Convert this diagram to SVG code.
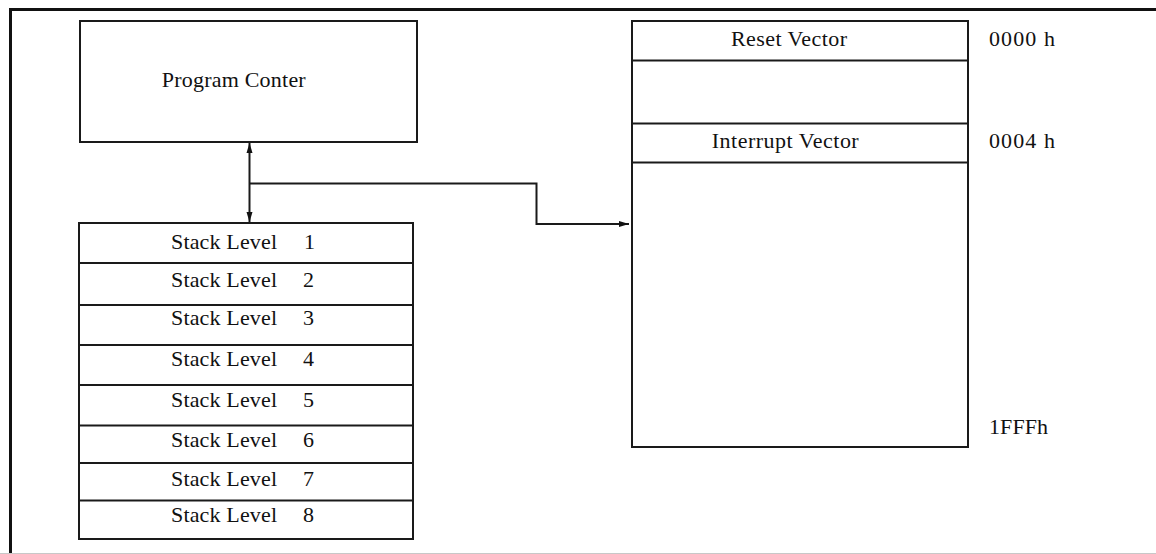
<svg xmlns="http://www.w3.org/2000/svg" width="1156" height="554" viewBox="0 0 1156 554">
<style>
.box{fill:#ffffff;stroke:#1a1a1a;stroke-width:2}
.sep{stroke:#1a1a1a;stroke-width:2;fill:none}
.lbl{font-family:"Liberation Serif","Times New Roman",serif;font-size:22px;fill:#111111}
.conn{stroke:#1a1a1a;stroke-width:2;fill:none}
</style>
<defs>
<marker id="ah" viewBox="0 0 10 7" refX="10" refY="3.5" markerWidth="10" markerHeight="7" markerUnits="userSpaceOnUse" orient="auto-start-reverse">
<path d="M0,0.5 L10,3.5 L0,6.5 z" fill="#111111"/>
</marker>
</defs>
<rect width="1156" height="554" fill="#ffffff"/>
<g id="frame">
<line x1="9" y1="9.5" x2="1156" y2="9.5" stroke="#111111" stroke-width="3"/>
<line x1="10.5" y1="8" x2="10.5" y2="553" stroke="#111111" stroke-width="3"/>
<line x1="0" y1="553.5" x2="1156" y2="553.5" stroke="#c8c8c8" stroke-width="1"/>
</g>
<g id="program-counter">
<rect class="box" x="80" y="21" width="337" height="121"/>
<text class="lbl" x="161.7" y="87.3" textLength="144" font-size="23">Program Conter</text>
</g>
<g id="stack">
<rect class="box" x="79" y="223" width="334" height="316"/>
<line class="sep" x1="79" y1="263" x2="413" y2="263"/>
<line class="sep" x1="79" y1="305" x2="413" y2="305"/>
<line class="sep" x1="79" y1="345" x2="413" y2="345"/>
<line class="sep" x1="79" y1="385" x2="413" y2="385"/>
<line class="sep" x1="79" y1="425.5" x2="413" y2="425.5"/>
<line class="sep" x1="79" y1="463" x2="413" y2="463"/>
<line class="sep" x1="79" y1="500.5" x2="413" y2="500.5"/>
<text class="lbl" y="249.3"><tspan x="171" textLength="106">Stack Level</tspan> <tspan x="304">1</tspan></text>
<text class="lbl" y="286.7"><tspan x="171" textLength="106">Stack Level</tspan> <tspan x="303">2</tspan></text>
<text class="lbl" y="325"><tspan x="171" textLength="106">Stack Level</tspan> <tspan x="303">3</tspan></text>
<text class="lbl" y="366"><tspan x="171" textLength="106">Stack Level</tspan> <tspan x="303">4</tspan></text>
<text class="lbl" y="406.7"><tspan x="171" textLength="106">Stack Level</tspan> <tspan x="303">5</tspan></text>
<text class="lbl" y="447.3"><tspan x="171" textLength="106">Stack Level</tspan> <tspan x="303">6</tspan></text>
<text class="lbl" y="486"><tspan x="171" textLength="106">Stack Level</tspan> <tspan x="303">7</tspan></text>
<text class="lbl" y="521.7"><tspan x="171" textLength="106">Stack Level</tspan> <tspan x="303">8</tspan></text>
</g>
<g id="memory">
<rect class="box" x="632" y="21" width="336" height="426"/>
<line class="sep" x1="632" y1="60.5" x2="968" y2="60.5"/>
<line class="sep" x1="632" y1="123.5" x2="968" y2="123.5"/>
<line class="sep" x1="632" y1="162.5" x2="968" y2="162.5"/>
<text class="lbl" x="731" y="45.7" textLength="116">Reset Vector</text>
<text class="lbl" x="711.7" y="147.7" textLength="147">Interrupt Vector</text>
</g>
<g id="addresses">
<text class="lbl" x="989" y="45.7" textLength="66">0000 h</text>
<text class="lbl" x="989" y="147.7" textLength="66">0004 h</text>
<text class="lbl" x="989" y="434.3" textLength="59">1FFFh</text>
</g>
<g id="connectors">
<line class="conn" x1="249.5" y1="143" x2="249.5" y2="222" marker-start="url(#ah)" marker-end="url(#ah)"/>
<path class="conn" d="M249.5,183.5 H536.5 V224 H629" marker-end="url(#ah)"/>
</g>
</svg>
